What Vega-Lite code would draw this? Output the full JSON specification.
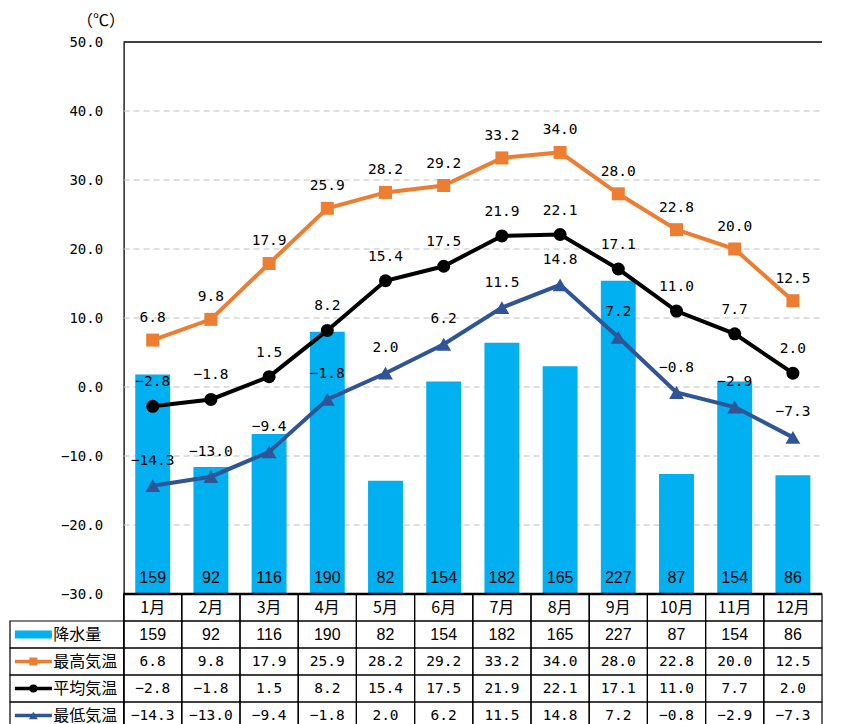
{
  "$schema": "https://vega.github.io/schema/vega-lite/v6.json",
  "width": 812,
  "height": 687,
  "autosize": "none",
  "padding": {"left": 10, "top": 42, "right": 42, "bottom": 0},
  "config": {"view": {"stroke": null}, "font": "Noto Sans CJK JP", "text": {"color": "#000"}},
  "datasets": {
    "climate": [
      {"month": "1月", "precip": 159, "tmax": 6.8, "tavg": -2.8, "tmin": -14.3},
      {"month": "2月", "precip": 92, "tmax": 9.8, "tavg": -1.8, "tmin": -13.0},
      {"month": "3月", "precip": 116, "tmax": 17.9, "tavg": 1.5, "tmin": -9.4},
      {"month": "4月", "precip": 190, "tmax": 25.9, "tavg": 8.2, "tmin": -1.8},
      {"month": "5月", "precip": 82, "tmax": 28.2, "tavg": 15.4, "tmin": 2.0},
      {"month": "6月", "precip": 154, "tmax": 29.2, "tavg": 17.5, "tmin": 6.2},
      {"month": "7月", "precip": 182, "tmax": 33.2, "tavg": 21.9, "tmin": 11.5},
      {"month": "8月", "precip": 165, "tmax": 34.0, "tavg": 22.1, "tmin": 14.8},
      {"month": "9月", "precip": 227, "tmax": 28.0, "tavg": 17.1, "tmin": 7.2},
      {"month": "10月", "precip": 87, "tmax": 22.8, "tavg": 11.0, "tmin": -0.8},
      {"month": "11月", "precip": 154, "tmax": 20.0, "tavg": 7.7, "tmin": -2.9},
      {"month": "12月", "precip": 86, "tmax": 12.5, "tavg": 2.0, "tmin": -7.3}
    ],
    "rows": [
      {"key": "precip", "label": "降水量"},
      {"key": "tmax", "label": "最高気温"},
      {"key": "tavg", "label": "平均気温"},
      {"key": "tmin", "label": "最低気温"}
    ],
    "grid": [{"t": -20}, {"t": -10}, {"t": 0}, {"t": 10}, {"t": 20}, {"t": 30}, {"t": 40}],
    "one": [{"k": 1}]
  },
  "resolve": {"scale": {"x": "independent", "y": "independent"}, "axis": {"x": "independent", "y": "independent"}},
  "layer": [
    {
      "data": {"name": "grid"},
      "mark": {"type": "rule", "stroke": "#BFBFBF", "strokeDash": [6, 4], "strokeWidth": 1},
      "encoding": {
        "x": {"datum": "1月", "bandPosition": 0, "scale": {"type": "band", "domain": ["1月","2月","3月","4月","5月","6月","7月","8月","9月","10月","11月","12月"], "paddingInner": 0, "paddingOuter": 0.976, "align": 1, "round": false}, "axis": null},
        "x2": {"datum": "12月", "bandPosition": 1},
        "y": {"field": "t", "type": "quantitative", "scale": {"type": "linear", "domain": [-49.565, 50], "nice": false, "zero": false},
          "axis": {"orient": "left", "offset": -113.6, "values": [-30, -20, -10, 0, 10, 20, 30, 40, 50], "format": ".1f", "labelFont": "DejaVu Sans Mono", "labelFontSize": 14, "labelColor": "#000", "labelPadding": 21, "ticks": false, "grid": false, "domainColor": "#000", "domainWidth": 1.3, "title": "（℃）", "titleAngle": 0, "titleX": -23, "titleY": -22, "titleAlign": "center", "titleBaseline": "middle", "titleFont": "Noto Sans CJK JP", "titleFontSize": 16, "titleFontWeight": "normal", "titleColor": "#000"}}
      }
    },
    {
      "data": {"name": "climate"},
      "encoding": {"x": {"field": "month", "type": "ordinal", "scale": {"type": "band", "domain": ["1月","2月","3月","4月","5月","6月","7月","8月","9月","10月","11月","12月"], "paddingInner": 0, "paddingOuter": 0.976, "align": 1, "round": false}, "axis": null}},
      "layer": [
        {
          "mark": {"type": "bar", "color": "#00B0F0", "width": {"band": 0.6}},
          "encoding": {"y": {"field": "precip", "type": "quantitative", "scale": {"type": "linear", "domain": [-97.826, 400], "nice": false, "zero": false},
            "axis": {"orient": "right", "values": [0, 50, 100, 150, 200, 250, 300, 350, 400], "format": "d", "labelFont": "Liberation Sans", "labelFontSize": 15, "labelColor": "#000", "labelPadding": 13, "ticks": false, "grid": false, "domainColor": "#000", "domainWidth": 1.3, "title": "（㎜）", "titleAngle": 0, "titleX": 25, "titleY": -22, "titleAlign": "center", "titleBaseline": "middle", "titleFont": "Noto Sans CJK JP", "titleFontSize": 16, "titleFontWeight": "normal", "titleColor": "#000"}}}
        },
        {
          "mark": {"type": "text", "font": "Liberation Sans Narrow, Liberation Sans", "fontSize": 16, "dy": -16},
          "encoding": {"y": {"datum": 0, "type": "quantitative", "axis": null}, "text": {"field": "precip", "type": "quantitative"}}
        }
      ]
    },
    {
      "data": {"name": "climate"},
      "encoding": {"x": {"field": "month", "type": "ordinal", "scale": {"type": "band", "domain": ["1月","2月","3月","4月","5月","6月","7月","8月","9月","10月","11月","12月"], "paddingInner": 0, "paddingOuter": 0.976, "align": 1, "round": false}, "axis": null}},
      "layer": [
        {
          "mark": {"type": "rect", "fill": "transparent", "stroke": "#000", "strokeWidth": 1.2},
          "encoding": {"y": {"datum": "hdr", "type": "nominal", "scale": {"type": "band", "domain": ["hdr", "precip", "tmax", "tavg", "tmin"], "range": [552, 687], "paddingInner": 0, "paddingOuter": 0, "round": false}, "axis": null}}
        },
        {
          "transform": [{"fold": ["precip", "tmax", "tavg", "tmin"], "as": ["key", "value"]}],
          "mark": {"type": "rect", "fill": "transparent", "stroke": "#000", "strokeWidth": 1.2},
          "encoding": {"y": {"field": "key", "type": "nominal", "axis": null}}
        },
        {
          "mark": {"type": "text", "font": "Noto Sans CJK JP", "fontSize": 16},
          "encoding": {"y": {"datum": "hdr", "type": "nominal", "axis": null}, "text": {"field": "month", "type": "nominal"}}
        },
        {
          "mark": {"type": "text", "font": "Liberation Sans Narrow, Liberation Sans", "fontSize": 16},
          "encoding": {"y": {"datum": "precip", "type": "nominal", "axis": null}, "text": {"field": "precip", "type": "quantitative"}}
        },
        {
          "mark": {"type": "text", "font": "DejaVu Sans Mono", "fontSize": 14.5},
          "encoding": {"y": {"datum": "tmax", "type": "nominal", "axis": null}, "text": {"field": "tmax", "type": "quantitative", "format": ".1f"}}
        },
        {
          "mark": {"type": "text", "font": "DejaVu Sans Mono", "fontSize": 14.5},
          "encoding": {"y": {"datum": "tavg", "type": "nominal", "axis": null}, "text": {"field": "tavg", "type": "quantitative", "format": ".1f"}}
        },
        {
          "mark": {"type": "text", "font": "DejaVu Sans Mono", "fontSize": 14.5},
          "encoding": {"y": {"datum": "tmin", "type": "nominal", "axis": null}, "text": {"field": "tmin", "type": "quantitative", "format": ".1f"}}
        }
      ]
    },
    {
      "data": {"name": "rows"},
      "encoding": {"y": {"field": "key", "type": "nominal", "scale": {"type": "band", "domain": ["hdr", "precip", "tmax", "tavg", "tmin"], "range": [552, 687], "paddingInner": 0, "paddingOuter": 0, "round": false}, "axis": null}},
      "layer": [
        {
          "mark": {"type": "rect", "fill": "transparent", "stroke": "#000", "strokeWidth": 1.2},
          "encoding": {"x": {"datum": "L", "type": "nominal", "scale": {"type": "band", "domain": ["L"], "range": [0, 113.6], "paddingInner": 0, "paddingOuter": 0, "round": false}, "axis": null}}
        },
        {
          "transform": [{"filter": "datum.key == 'precip'"}],
          "mark": {"type": "point", "shape": "M-1,-0.22L1,-0.22L1,0.22L-1,0.22Z", "size": 1369, "filled": true, "color": "#00B0F0", "opacity": 1, "strokeWidth": 0},
          "encoding": {"x": {"datum": "L", "type": "nominal", "bandPosition": 0.206, "axis": null}}
        },
        {
          "transform": [{"filter": "datum.key == 'tmax'"}],
          "mark": {"type": "point", "shape": "M-1,0L1,0", "size": 1369, "filled": false, "color": "#ED7D31", "opacity": 1, "strokeWidth": 3.5},
          "encoding": {"x": {"datum": "L", "type": "nominal", "bandPosition": 0.206, "axis": null}}
        },
        {
          "transform": [{"filter": "datum.key == 'tmax'"}],
          "mark": {"type": "point", "shape": "square", "size": 64, "filled": true, "color": "#ED7D31", "opacity": 1},
          "encoding": {"x": {"datum": "L", "type": "nominal", "bandPosition": 0.206, "axis": null}}
        },
        {
          "transform": [{"filter": "datum.key == 'tavg'"}],
          "mark": {"type": "point", "shape": "M-1,0L1,0", "size": 1369, "filled": false, "color": "#000000", "opacity": 1, "strokeWidth": 3.5},
          "encoding": {"x": {"datum": "L", "type": "nominal", "bandPosition": 0.206, "axis": null}}
        },
        {
          "transform": [{"filter": "datum.key == 'tavg'"}],
          "mark": {"type": "point", "shape": "circle", "size": 64, "filled": true, "color": "#000000", "opacity": 1},
          "encoding": {"x": {"datum": "L", "type": "nominal", "bandPosition": 0.206, "axis": null}}
        },
        {
          "transform": [{"filter": "datum.key == 'tmin'"}],
          "mark": {"type": "point", "shape": "M-1,0L1,0", "size": 1369, "filled": false, "color": "#2F5597", "opacity": 1, "strokeWidth": 3.5},
          "encoding": {"x": {"datum": "L", "type": "nominal", "bandPosition": 0.206, "axis": null}}
        },
        {
          "transform": [{"filter": "datum.key == 'tmin'"}],
          "mark": {"type": "point", "shape": "triangle-up", "size": 80, "filled": true, "color": "#2F5597", "opacity": 1},
          "encoding": {"x": {"datum": "L", "type": "nominal", "bandPosition": 0.206, "axis": null}}
        },
        {
          "mark": {"type": "text", "font": "Noto Sans CJK JP", "fontSize": 16, "align": "left"},
          "encoding": {"x": {"datum": "L", "type": "nominal", "bandPosition": 0.381, "axis": null}, "text": {"field": "label", "type": "nominal"}}
        }
      ]
    },
    {
      "data": {"name": "climate"},
      "encoding": {"x": {"field": "month", "type": "ordinal", "scale": {"type": "band", "domain": ["1月","2月","3月","4月","5月","6月","7月","8月","9月","10月","11月","12月"], "paddingInner": 0, "paddingOuter": 0.976, "align": 1, "round": false}, "axis": null}},
      "layer": [
        {
          "data": {"name": "one"},
          "mark": {"type": "rule", "stroke": "#000", "strokeWidth": 1.3},
          "encoding": {
            "x": {"datum": "1月", "bandPosition": 0, "axis": null},
            "x2": {"datum": "12月", "bandPosition": 1},
            "y": {"datum": 50, "type": "quantitative", "scale": {"type": "linear", "domain": [-49.565, 50], "nice": false, "zero": false}, "axis": null}
          }
        },
        {
          "data": {"name": "one"},
          "mark": {"type": "rule", "stroke": "#000", "strokeWidth": 2.4},
          "encoding": {
            "x": {"datum": "1月", "bandPosition": 0, "axis": null},
            "x2": {"datum": "12月", "bandPosition": 1},
            "y": {"datum": -30, "type": "quantitative", "axis": null}
          }
        },
        {
          "mark": {"type": "line", "color": "#ED7D31", "strokeWidth": 4},
          "encoding": {"y": {"field": "tmax", "type": "quantitative", "axis": null}, "order": {"value": null}}
        },
        {
          "mark": {"type": "point", "shape": "square", "size": 169, "filled": true, "color": "#ED7D31", "opacity": 1},
          "encoding": {"y": {"field": "tmax", "type": "quantitative", "axis": null}}
        },
        {
          "mark": {"type": "text", "font": "DejaVu Sans Mono", "fontSize": 14.5, "dy": -22},
          "encoding": {"y": {"field": "tmax", "type": "quantitative", "axis": null}, "text": {"field": "tmax", "type": "quantitative", "format": ".1f"}}
        },
        {
          "mark": {"type": "line", "color": "#000000", "strokeWidth": 4},
          "encoding": {"y": {"field": "tavg", "type": "quantitative", "axis": null}, "order": {"value": null}}
        },
        {
          "mark": {"type": "point", "shape": "circle", "size": 169, "filled": true, "color": "#000000", "opacity": 1},
          "encoding": {"y": {"field": "tavg", "type": "quantitative", "axis": null}}
        },
        {
          "mark": {"type": "text", "font": "DejaVu Sans Mono", "fontSize": 14.5, "dy": -24},
          "encoding": {"y": {"field": "tavg", "type": "quantitative", "axis": null}, "text": {"field": "tavg", "type": "quantitative", "format": ".1f"}}
        },
        {
          "mark": {"type": "line", "color": "#2F5597", "strokeWidth": 4},
          "encoding": {"y": {"field": "tmin", "type": "quantitative", "axis": null}, "order": {"value": null}}
        },
        {
          "mark": {"type": "point", "shape": "triangle-up", "size": 220, "filled": true, "color": "#2F5597", "opacity": 1},
          "encoding": {"y": {"field": "tmin", "type": "quantitative", "axis": null}}
        },
        {
          "mark": {"type": "text", "font": "DejaVu Sans Mono", "fontSize": 14.5, "dy": -25},
          "encoding": {"y": {"field": "tmin", "type": "quantitative", "axis": null}, "text": {"field": "tmin", "type": "quantitative", "format": ".1f"}}
        }
      ]
    }
  ]
}
